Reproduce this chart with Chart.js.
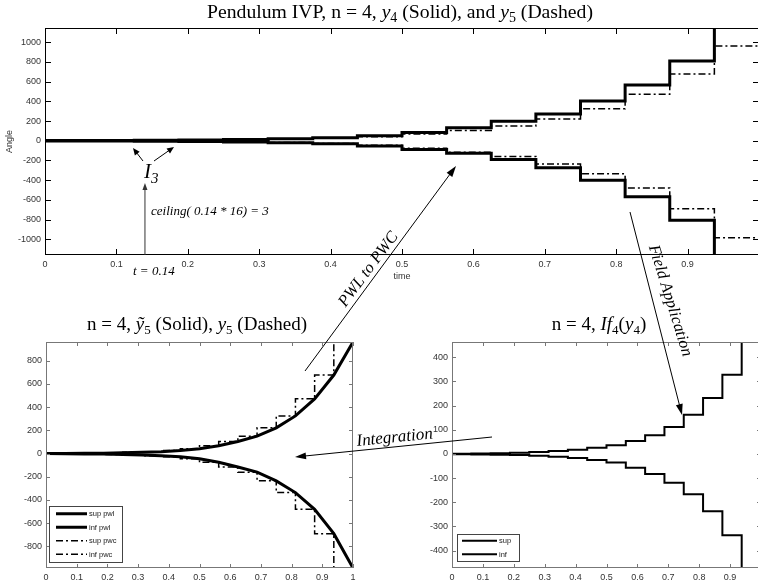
<!DOCTYPE html>
<html><head><meta charset="utf-8">
<script src="https://cdn.jsdelivr.net/npm/chart.js@4.4.1/dist/chart.umd.min.js"></script>
<style>
html,body{margin:0;padding:0;background:#fff;overflow:hidden;width:758px;height:586px;position:relative}
canvas{position:absolute;display:block}
</style></head><body>
<canvas id="cTop" style="left:0;top:0;width:759px;height:290px" width="759" height="290"></canvas>
<canvas id="cBL" style="left:0;top:300px;width:360px;height:286px" width="360" height="286"></canvas>
<canvas id="cBR" style="left:405px;top:300px;width:356px;height:286px" width="356" height="286"></canvas>
<canvas id="cOver" style="left:0;top:0;width:758px;height:586px;pointer-events:none" width="758" height="586"></canvas>
<script>
// ---------------- data ----------------
const timeKnots = [0,0.0625,0.125,0.1875,0.25,0.3125,0.375,0.4375,0.5,0.5625,0.625,0.6875,0.75,0.8125,0.875,0.9375,1];
const timeTicks = [0,0.1,0.2,0.3,0.4,0.5,0.6,0.7,0.8,0.9,1];
const timeTickLabels = ['0','0.1','0.2','0.3','0.4','0.5','0.6','0.7','0.8','0.9','1'];
const angleTicks = [-1000,-800,-600,-400,-200,0,200,400,600,800,1000];
const pwlTicks = [-800,-600,-400,-200,0,200,400,600,800];
const ifTicks = [-400,-300,-200,-100,0,100,200,300,400];
// step values on the 16 sub-intervals [k/16,(k+1)/16]
const y4Sup = [2,3,5,8,13,20,30,50,85,132,198,271,403,566,810,1170];
const y4Inf = [-2,-3,-5,-8,-13,-20,-30,-54,-88,-128,-190,-274,-400,-569,-806,-1180];
const y5Sup = [1.5,2.5,4,7,11,17,27,42,68,105,150,222,325,472,677,962];
const y5Inf = [-1.5,-2.5,-4,-7,-11,-18,-28,-45,-75,-116,-160,-235,-336,-480,-690,-986];
// piecewise linear enclosure at the 17 knots
const pwlSup = [0,1.5,2.5,4,7,11,17,27,42,68,105,150,222,325,472,677,962];
const pwlInf = [0,-1.5,-2.5,-4,-7,-11,-18,-28,-45,-75,-116,-160,-235,-336,-480,-690,-986];
// interval field If_4(y_4) on the 16 sub-intervals
const ifSup = [1,2,3,5,8,12,17,25,36,53,77,111,162,231,328,470];
const ifInf = [-1,-2,-3,-5,-8,-12,-17,-25,-36,-57,-83,-119,-167,-237,-336,-480];

// ---------------- helpers ----------------
Chart.defaults.font.family = '"Liberation Sans", Arial, sans-serif';
Chart.defaults.color = '#222';
const DASHDOT = [7,3,2,3];
function steps(vals){ return timeKnots.map((t,k)=>({x:t, y:vals[Math.min(k, vals.length-1)]})); }
function knots(vals){ return timeKnots.map((t,k)=>({x:t, y:vals[k]})); }

const boxPlugin = {
  id:'boxTicks',
  afterDatasetsDraw(chart, args, o){
    const {ctx, chartArea:a, scales:{x,y}} = chart;
    ctx.save();
    ctx.strokeStyle = o.color; ctx.lineWidth = 1;
    ctx.beginPath();
    x.ticks.forEach(t=>{ const p = Math.round(x.getPixelForValue(t.value))+0.5;
      ctx.moveTo(p,a.bottom); ctx.lineTo(p,a.bottom-o.len);
      ctx.moveTo(p,a.top); ctx.lineTo(p,a.top+o.len); });
    y.ticks.forEach(t=>{ const p = Math.round(y.getPixelForValue(t.value))+0.5;
      ctx.moveTo(a.left,p); ctx.lineTo(a.left+o.len,p);
      ctx.moveTo(a.right,p); ctx.lineTo(a.right-o.len,p); });
    ctx.stroke();
    ctx.strokeRect(Math.round(a.left)+0.5, Math.round(a.top)+0.5, Math.round(a.right-a.left)-1, Math.round(a.bottom-a.top)-1);
    ctx.restore();
  }
};
const legendPlugin = {
  id:'boxLegend',
  afterDraw(chart, args, o){
    if(!o.show) return;
    const {ctx, chartArea:a} = chart;
    const ds = chart.data.datasets.filter(d=>d.legendOrder!==undefined).sort((p,q)=>p.legendOrder-q.legendOrder);
    const x0 = a.left + o.dx, y1 = a.bottom + o.dy, h = o.rowH*ds.length + o.pad*2, y0 = y1 - h;
    ctx.save();
    ctx.fillStyle='#fff'; ctx.fillRect(x0,y0,o.w,h);
    ctx.strokeStyle='#444'; ctx.lineWidth=1; ctx.strokeRect(x0+0.5,y0+0.5,o.w,h);
    ctx.font = o.font; ctx.textBaseline='middle'; ctx.fillStyle='#222';
    ds.forEach((d,i)=>{
      const yy = y0 + o.pad + o.rowH*(i+0.5);
      ctx.strokeStyle='#000'; ctx.lineWidth=d.borderWidth; ctx.setLineDash(d.borderDash||[]);
      ctx.beginPath(); ctx.moveTo(x0+o.l0,yy); ctx.lineTo(x0+o.l1,yy); ctx.stroke();
      ctx.setLineDash([]);
      ctx.fillText(d.label, x0+o.l1+2, yy+0.5);
    });
    ctx.restore();
  }
};
function noPad(s){ s.paddingLeft = 0; s.paddingRight = 0; s.paddingTop = 0; s.paddingBottom = 0; }

function xScale(h, showOne, title){
  return {type:'linear', min:0, max:1,
    afterBuildTicks:s=>{ s.ticks = timeTicks.map(v=>({value:v})); },
    ticks:{font:{size:9}, color:'#333', padding:4, maxRotation:0, autoSkip:false,
      callback:(v)=> (v===1 && !showOne) ? '' : timeTickLabels[timeTicks.indexOf(v)]},
    grid:{display:false, drawTicks:false}, border:{display:false},
    title: title ? {display:true, text:title, font:{size:9}, color:'#333', padding:{top:0,bottom:8}} : {display:false},
    afterFit:s=>{ s.height = h; noPad(s); }};
}
function yScale(min,max,ticks,w,title){
  return {type:'linear', min, max,
    afterBuildTicks:s=>{ s.ticks = ticks.map(v=>({value:v})); },
    ticks:{font:{size:9}, color:'#333', padding:4, callback:v=>String(v)},
    grid:{display:false, drawTicks:false}, border:{display:false},
    title: title ? {display:true, text:title, font:{size:9}, color:'#333', padding:{top:4,bottom:0}} : {display:false},
    afterFit:s=>{ s.width = w; noPad(s); }};
}
function line(label, data, width, dash, stepped, lo){
  // stepped 'before': each value is held from its knot until the next knot
  const d = {label, data, borderColor:'#000', backgroundColor:'#000', borderWidth:width, pointRadius:0, tension:0, fill:false, stepped: stepped ? 'before' : false};
  if(dash) d.borderDash = dash;
  if(lo!==undefined) d.legendOrder = lo;
  return d;
}
const baseOpts = {responsive:false, animation:false, events:[], devicePixelRatio:1};

// ---------------- top chart ----------------
const cTop = new Chart(document.getElementById('cTop'), {
  type:'line',
  data:{datasets:[
    line('y5 sup', steps(y5Sup), 1.5, DASHDOT, true),
    line('y5 inf', steps(y5Inf), 1.5, DASHDOT, true),
    line('y4 sup', steps(y4Sup), 3, null, true),
    line('y4 inf', steps(y4Inf), 3, null, true)
  ]},
  options:{...baseOpts,
    layout:{padding:{top:28,left:0,right:0,bottom:0}},
    plugins:{legend:{display:false}, tooltip:{enabled:false}, boxTicks:{color:'#000',len:6}, boxLegend:{show:false}},
    scales:{x:xScale(35,false,'time'), y:yScale(-1160,1145,angleTicks,45,'Angle')}
  },
  plugins:[boxPlugin, legendPlugin]
});

// ---------------- bottom-left chart ----------------
const cBL = new Chart(document.getElementById('cBL'), {
  type:'line',
  data:{datasets:[
    line('sup pwc', steps(y5Sup), 1.5, DASHDOT, true, 2),
    line('inf pwc', steps(y5Inf), 1.5, DASHDOT, true, 3),
    line('sup pwl', knots(pwlSup), 3, null, false, 0),
    line('inf pwl', knots(pwlInf), 3, null, false, 1)
  ]},
  options:{...baseOpts,
    layout:{padding:{top:42,left:0,right:7,bottom:0}},
    plugins:{legend:{display:false}, tooltip:{enabled:false}, boxTicks:{color:'#777',len:4},
      boxLegend:{show:true, dx:3, dy:-6, w:73, rowH:13.5, pad:1, l0:7, l1:38, font:'7.5px "Liberation Sans", Arial'}},
    scales:{x:xScale(18,true,null), y:yScale(-986,962,pwlTicks,46,null)}
  },
  plugins:[boxPlugin, legendPlugin]
});

// ---------------- bottom-right chart ----------------
const cBR = new Chart(document.getElementById('cBR'), {
  type:'line',
  data:{datasets:[
    line('sup', steps(ifSup), 2, null, true, 0),
    line('inf', steps(ifInf), 2, null, true, 1)
  ]},
  options:{...baseOpts,
    layout:{padding:{top:42,left:0,right:0,bottom:0}},
    plugins:{legend:{display:false}, tooltip:{enabled:false}, boxTicks:{color:'#777',len:4},
      boxLegend:{show:true, dx:5, dy:-7, w:62, rowH:13.5, pad:0, l0:5, l1:40, font:'7.5px "Liberation Sans", Arial'}},
    scales:{x:xScale(18,false,null), y:yScale(-472,463,ifTicks,47,null)}
  },
  plugins:[boxPlugin, legendPlugin]
});

// ---------------- overlay: titles & annotations ----------------
const oc = document.getElementById('cOver').getContext('2d');
const SERIF = '"Liberation Serif", "Times New Roman", serif';
function rich(segs, cx, by, size){
  const f = s => `${s.it?'italic ':''}${s.sub?Math.round(size*0.7):size}px ${SERIF}`;
  let w = 0; segs.forEach(s=>{ oc.font=f(s); w += oc.measureText(s.t).width; });
  let x = cx - w/2;
  oc.fillStyle='#000'; oc.textBaseline='alphabetic'; oc.textAlign='left';
  segs.forEach(s=>{ oc.font=f(s); oc.fillText(s.t, x, by + (s.sub? size*0.22 : 0)); x += oc.measureText(s.t).width; });
}
function areaOf(ch, el){ const a = ch.chartArea; const l = parseFloat(el.style.left), t = parseFloat(el.style.top); return {l:a.left+l, r:a.right+l, t:a.top+t, b:a.bottom+t}; }
const aTop = areaOf(cTop, document.getElementById('cTop'));
const aBL = areaOf(cBL, document.getElementById('cBL'));
const aBR = areaOf(cBR, document.getElementById('cBR'));

rich([{t:'Pendulum IVP, n = 4, '},{t:'y',it:1},{t:'4',sub:1},{t:' (Solid), and '},{t:'y',it:1},{t:'5',sub:1},{t:' (Dashed)'}], 400, aTop.t-10, 19.7);
rich([{t:'n = 4, '},{t:'\u1EF9',it:1},{t:'5',sub:1},{t:' (Solid), '},{t:'y',it:1},{t:'5',sub:1},{t:' (Dashed)'}], 197, aBL.t-12, 19);
rich([{t:'n = 4, '},{t:'If',it:1},{t:'4',sub:1},{t:'('},{t:'y',it:1},{t:'4',sub:1},{t:')'}], 599, aBR.t-12, 19);

function arrow(x0,y0,x1,y1,head,hw,color,lw){
  const ang = Math.atan2(y1-y0,x1-x0);
  oc.save(); oc.strokeStyle=color; oc.fillStyle=color; oc.lineWidth=lw||1;
  oc.beginPath(); oc.moveTo(x0,y0); oc.lineTo(x1-Math.cos(ang)*head*0.8, y1-Math.sin(ang)*head*0.8); oc.stroke();
  oc.beginPath(); oc.moveTo(x1,y1);
  oc.lineTo(x1-Math.cos(ang)*head+Math.sin(ang)*hw, y1-Math.sin(ang)*head-Math.cos(ang)*hw);
  oc.lineTo(x1-Math.cos(ang)*head-Math.sin(ang)*hw, y1-Math.sin(ang)*head+Math.cos(ang)*hw);
  oc.closePath(); oc.fill(); oc.restore();
}
function rtext(txt, x, y, ang, size, align){
  oc.save(); oc.translate(x,y); oc.rotate(ang);
  oc.font = `italic ${size}px ${SERIF}`; oc.fillStyle='#000'; oc.textAlign=align||'center'; oc.textBaseline='alphabetic';
  oc.fillText(txt,0,0); oc.restore();
}

// I_3 label and its arrows
oc.font = `italic 21px ${SERIF}`; oc.fillStyle='#000'; oc.textAlign='left'; oc.textBaseline='alphabetic';
oc.fillText('I', 144, 178);
oc.font = `italic 15px ${SERIF}`; oc.fillText('3', 151, 183);
arrow(143,161,133,148,7,3,'#000',1);
arrow(154,161,174,147,7,3,'#000',1);
// t = 0.14 marker
const xT = cTop.scales.x.getPixelForValue(0.14);
arrow(xT, aTop.b, xT, 183, 7, 2.5, '#333', 1);
oc.font = `italic 13px ${SERIF}`; oc.fillStyle='#000'; oc.textAlign='left';
oc.fillText('ceiling( 0.14 * 16) = 3', 151, 215);
oc.fillText('t = 0.14', 133, 275);
// PWL to PWC
arrow(305,371,456,166,11,3.5,'#000',1);
rtext('PWL to PWC', 372, 272, -0.93, 16.5);
// Field Application
arrow(630,212,682,415,11,3.5,'#000',1);
rtext('Field Application', 666, 302, 1.27, 16.5);
// Integration
arrow(492,437,295,457,11,3.5,'#000',1);
rtext('Integration', 357, 446, -0.1, 17, 'left');
</script>
</body></html>
